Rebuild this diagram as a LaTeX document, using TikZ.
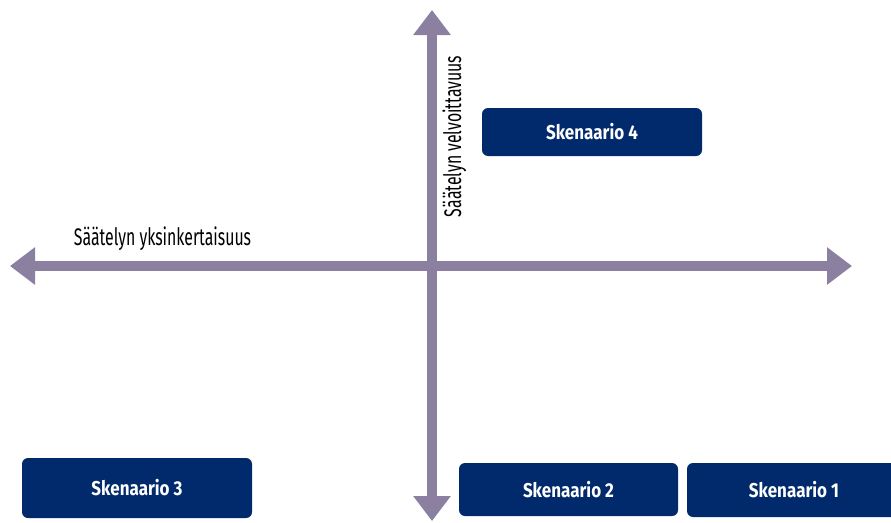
\documentclass[tikz,border=0pt]{standalone}
\usepackage{fontspec}
\setmainfont{Fira Sans}
\newfontfamily\axisfont[FakeStretch=0.66]{Fira Sans}
\newfontfamily\boxfont[FakeStretch=0.85]{Fira Sans}
\usepackage{xcolor}
\usetikzlibrary{arrows.meta, positioning, calc}

\definecolor{axisgrey}{RGB}{140,128,160}
\definecolor{scenblue}{RGB}{0,42,108}

\begin{document}
\begin{tikzpicture}[
x=1pt, y=-1pt,
axis/.style={draw=axisgrey, line width=9.5pt,
  {Triangle[length=25pt, width=36pt]}-{Triangle[length=25pt, width=36pt]}},
scenario/.style={draw=none, fill=scenblue, rounded corners=6pt, text=white,
  font=\boxfont\bfseries\fontsize{20}{22}\selectfont, inner sep=0pt},
axislabel/.style={font=\axisfont\fontsize{24}{26}\selectfont, inner sep=0pt}
]

\clip (0,0) rectangle (891,522);

\coordinate (west) at (10,266);
\coordinate (east) at (852,266);
\coordinate (north) at (432,10);
\coordinate (south) at (432,521);

\draw[axis] (west) -- (east);
\draw[axis] (south) -- (north);

\node[axislabel, anchor=base] (simple) at (162.5,245) {Säätelyn yksinkertaisuus};
\node[axislabel, rotate=90, anchor=base] (binding) at (461,136.5) {Säätelyn velvoittavuus};

\node[scenario, minimum width=220pt, minimum height=48pt] (s4) at (592,132) {Skenaario 4};
\node[scenario, minimum width=230pt, minimum height=60pt] (s3) at (137,488) {Skenaario 3};
\node[scenario, minimum width=219pt, minimum height=53pt] (s2) at (568.5,489.5) {Skenaario 2};
\node[scenario, minimum width=214pt, minimum height=54pt] (s1) at (794,490) {Skenaario 1};

\end{tikzpicture}
\end{document}
